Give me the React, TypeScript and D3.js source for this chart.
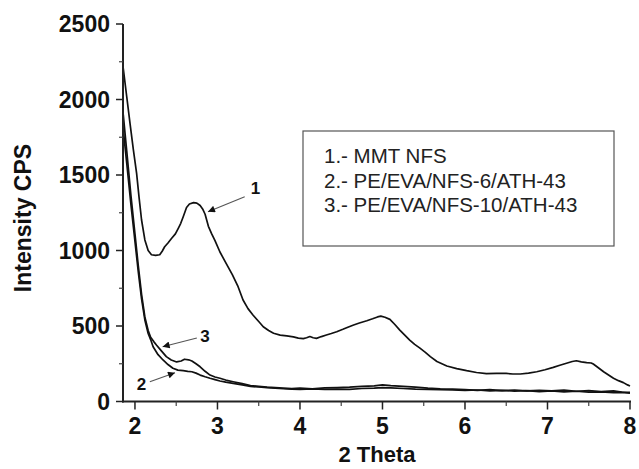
import React from 'react'
import * as d3 from 'd3'

// 2θ / intensity pairs
const mmtNfs: [number, number][] = [
  [1.858, 2207], [1.9, 2020], [1.94, 1842], [1.98, 1670], [2.02, 1511], [2.05, 1350], [2.08, 1202],
  [2.12, 1070], [2.16, 1000], [2.2, 972], [2.25, 968], [2.3, 972], [2.33, 995], [2.36, 1025],
  [2.4, 1050], [2.445, 1081], [2.49, 1110], [2.525, 1147], [2.555, 1180], [2.585, 1224], [2.625, 1285],
  [2.66, 1308], [2.71, 1317], [2.75, 1314], [2.79, 1298], [2.82, 1275], [2.85, 1240], [2.89, 1160],
  [2.93, 1110], [2.97, 1065], [3.03, 990], [3.1, 920], [3.18, 840], [3.25, 760], [3.31, 672],
  [3.37, 615], [3.43, 573], [3.5, 530], [3.555, 495], [3.62, 470], [3.68, 452], [3.76, 440],
  [3.84, 434], [3.92, 428], [3.98, 420], [4.04, 416], [4.08, 422], [4.12, 430], [4.16, 422],
  [4.2, 418], [4.26, 430], [4.32, 440], [4.38, 450], [4.445, 462], [4.52, 478], [4.58, 492],
  [4.65, 507], [4.72, 520], [4.81, 535], [4.88, 548], [4.94, 560], [4.98, 565], [5.03, 558],
  [5.09, 544], [5.15, 510], [5.21, 473], [5.27, 440], [5.33, 407], [5.39, 378], [5.45, 355],
  [5.52, 325], [5.58, 297], [5.66, 265], [5.78, 235], [5.9, 218], [6.02, 204], [6.14, 192],
  [6.26, 184], [6.38, 186], [6.5, 186], [6.58, 182], [6.67, 182], [6.77, 188], [6.87, 197],
  [6.97, 210], [7.07, 226], [7.15, 240], [7.23, 253], [7.3, 265], [7.35, 270], [7.41, 262],
  [7.475, 257], [7.53, 255], [7.555, 248], [7.62, 222], [7.68, 197], [7.74, 175], [7.8, 154],
  [7.86, 138], [7.92, 125], [7.97, 110], [8.0, 103]
]

const nfs6: [number, number][] = [
  [1.858, 1800], [1.9, 1580], [1.95, 1310], [2.0, 1060], [2.04, 860], [2.08, 680], [2.12, 540],
  [2.16, 450], [2.19, 410], [2.22, 363], [2.28, 310], [2.34, 275], [2.4, 245], [2.46, 220],
  [2.52, 208], [2.585, 204], [2.64, 200], [2.69, 197], [2.74, 188], [2.79, 175], [2.85, 164],
  [2.91, 154], [2.97, 145], [3.03, 136], [3.1, 128], [3.19, 120], [3.3, 110], [3.4, 100],
  [3.5, 96], [3.6, 92], [3.75, 86], [3.9, 82], [4.0, 80], [4.15, 84], [4.3, 80], [4.45, 82],
  [4.6, 80], [4.75, 86], [4.9, 88], [5.0, 92], [5.1, 90], [5.25, 86], [5.4, 82], [5.55, 80],
  [5.7, 78], [5.85, 76], [6.0, 74], [6.15, 76], [6.3, 70], [6.45, 74], [6.6, 68], [6.75, 72],
  [6.9, 66], [7.05, 70], [7.2, 64], [7.35, 68], [7.5, 62], [7.65, 64], [7.8, 58], [7.9, 60], [8.0, 55]
]

const nfs10: [number, number][] = [
  [1.858, 1900], [1.9, 1660], [1.95, 1370], [2.0, 1110], [2.04, 900], [2.08, 710], [2.12, 560],
  [2.16, 470], [2.19, 425], [2.23, 395], [2.26, 374], [2.32, 335], [2.38, 297], [2.44, 275],
  [2.505, 262], [2.56, 268], [2.6, 280], [2.65, 276], [2.69, 268], [2.74, 250], [2.79, 230],
  [2.85, 200], [2.91, 175], [2.97, 162], [3.03, 154], [3.1, 142], [3.19, 131], [3.3, 118],
  [3.4, 105], [3.5, 100], [3.6, 95], [3.75, 90], [3.9, 85], [4.0, 88], [4.15, 83], [4.3, 90],
  [4.45, 92], [4.6, 95], [4.75, 100], [4.9, 104], [5.0, 110], [5.1, 105], [5.25, 100], [5.4, 95],
  [5.55, 88], [5.7, 84], [5.85, 82], [6.0, 78], [6.15, 74], [6.3, 78], [6.45, 72], [6.6, 76],
  [6.75, 70], [6.9, 74], [7.05, 70], [7.2, 75], [7.35, 68], [7.5, 72], [7.65, 66], [7.8, 70],
  [7.9, 62], [8.0, 60]
]

const legendLabels = ['1.- MMT NFS', '2.- PE/EVA/NFS-6/ATH-43', '3.- PE/EVA/NFS-10/ATH-43']

// curve callouts: label position, arrow tail, arrow head (data units)
const callouts = [
  { text: '1', label: [3.46, 1414], from: [3.33, 1356], to: [2.885, 1257] },
  { text: '3', label: [2.85, 434], from: [2.75, 420], to: [2.335, 363] },
  { text: '2', label: [2.08, 118], from: [2.18, 131], to: [2.485, 191] }
]

const xMajor = [2, 3, 4, 5, 6, 7, 8]
const xMinor = [2.5, 3.5, 4.5, 5.5, 6.5, 7.5]
const yMajor = [0, 500, 1000, 1500, 2000, 2500]
const yMinor = [250, 750, 1250, 1750, 2250]

const FONT = '"Liberation Sans", Arial, Helvetica, sans-serif'

export default function App() {
  const width = 639
  const height = 469
  const x = d3.scaleLinear().domain([1.855, 8]).range([123, 630])
  const y = d3.scaleLinear().domain([0, 2500]).range([401.5, 24])
  const line = d3.line<[number, number]>().x(d => x(d[0])).y(d => y(d[1])).curve(d3.curveLinear)
  const [x0, x1] = x.range()
  const [y0, y1] = y.range()

  return (
    <svg width={width} height={height} viewBox={`0 0 ${width} ${height}`}
      style={{ position: 'absolute', left: 0, top: 0, background: '#fff' }} fontFamily={FONT}>
      <defs>
        <marker id="arrowhead" viewBox="0 0 10 10" refX="10" refY="5" markerWidth="9" markerHeight="7"
          markerUnits="userSpaceOnUse" orient="auto">
          <path d="M0,0 L10,5 L0,10 z" fill="#111" />
        </marker>
      </defs>

      {/* curves */}
      {[mmtNfs, nfs6, nfs10].map((s, i) => (
        <path key={i} d={line(s) || ''} fill="none" stroke="#111" strokeWidth={1.7} strokeLinejoin="round" />
      ))}

      {/* axes */}
      <line x1={x0} x2={x0} y1={y1} y2={y0 + 1} stroke="#222" strokeWidth={2} />
      <line x1={x0 - 1} x2={x1 + 1} y1={y0} y2={y0} stroke="#222" strokeWidth={2} />
      {yMajor.map(t => (
        <g key={`ym${t}`}>
          <line x1={x0 - 7} x2={x0} y1={y(t)} y2={y(t)} stroke="#222" strokeWidth={1.5} />
          <text x={110} y={y(t)} dy="0.36em" textAnchor="end" fontSize={23} fontWeight="bold" fill="#111">{t}</text>
        </g>
      ))}
      {yMinor.map(t => (
        <line key={`yn${t}`} x1={x0 - 4} x2={x0} y1={y(t)} y2={y(t)} stroke="#444" strokeWidth={1.2} />
      ))}
      {xMajor.map(t => (
        <g key={`xm${t}`}>
          <line x1={x(t)} x2={x(t)} y1={y0} y2={y0 + 8} stroke="#222" strokeWidth={1.5} />
          <text x={x(t)} y={434} textAnchor="middle" fontSize={23} fontWeight="bold" fill="#111">{t}</text>
        </g>
      ))}
      {xMinor.map(t => (
        <line key={`xn${t}`} x1={x(t)} x2={x(t)} y1={y0} y2={y0 + 4.5} stroke="#444" strokeWidth={1.2} />
      ))}

      {/* axis titles */}
      <text x={377} y={462} textAnchor="middle" fontSize={22} fontWeight="bold" fill="#111">2 Theta</text>
      <text transform="translate(31,218) rotate(-90)" textAnchor="middle" fontSize={23} fontWeight="bold" fill="#111">Intensity CPS</text>

      {/* legend */}
      <rect x={303} y={131} width={311} height={115} fill="#fff" stroke="#555" strokeWidth={1.2} />
      {legendLabels.map((t, i) => (
        <text key={t} x={324} y={163 + i * 24.5} fontSize={20.5} fill="#222">{t}</text>
      ))}

      {/* callouts */}
      {callouts.map(c => (
        <g key={c.text}>
          <line x1={x(c.from[0])} y1={y(c.from[1])} x2={x(c.to[0])} y2={y(c.to[1])}
            stroke="#555" strokeWidth={1.1} markerEnd="url(#arrowhead)" />
          <text x={x(c.label[0])} y={y(c.label[1])} dy="0.36em" textAnchor="middle" fontSize={17}
            fontWeight="bold" fill="#111">{c.text}</text>
        </g>
      ))}
    </svg>
  )
}
